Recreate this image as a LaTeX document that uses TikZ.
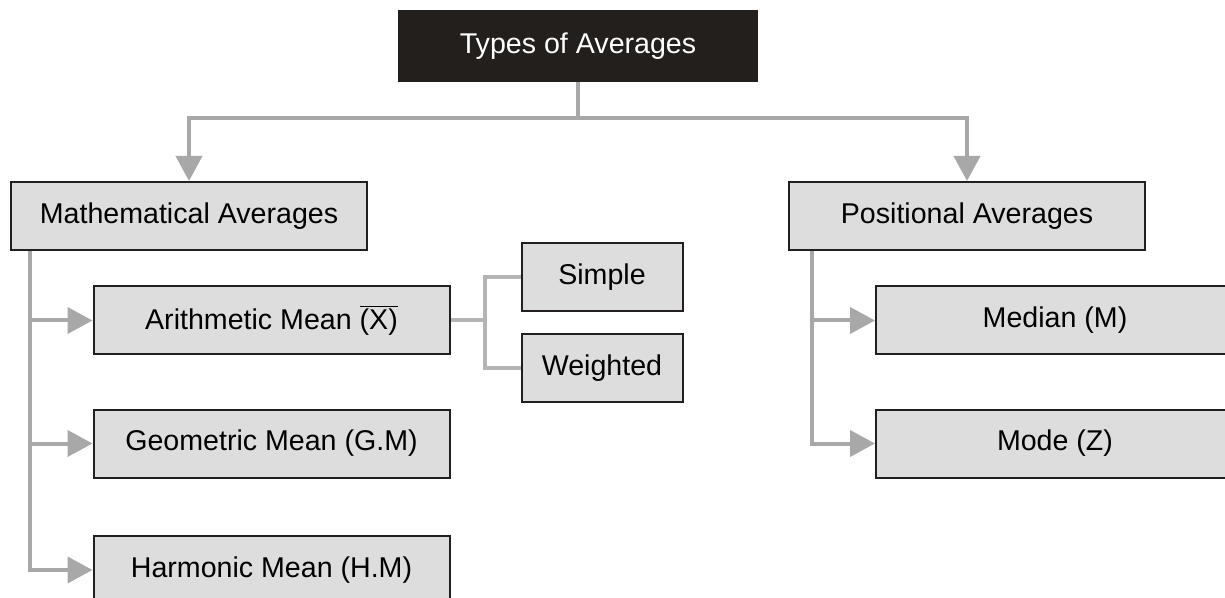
\documentclass[tikz,border=0pt]{standalone}
\usepackage{fontspec}
\setmainfont{Liberation Sans}
\usetikzlibrary{arrows.meta}
\definecolor{boxfill}{HTML}{DDDDDD}
\definecolor{boxline}{HTML}{231F20}
\definecolor{topfill}{HTML}{231F1C}
\definecolor{linkgray}{HTML}{A8A8A8}
\definecolor{forkgray}{HTML}{B4B4B4}
\tikzset{
  avgbox/.style={draw=boxline, fill=boxfill, line width=1pt, minimum width=178pt,
                 minimum height=34pt, inner sep=0pt,
                 font=\fontsize{14.3}{17}\selectfont},
  topbox/.style={avgbox, fill=topfill, draw=topfill, text=white, minimum width=179pt,
                 minimum height=35pt},
  smallbox/.style={avgbox, minimum width=80.5pt},
  link/.style={draw=linkgray, line width=2pt},
  arrowlink/.style={link, -{Triangle[length=12.5pt, width=13pt]}},
  forklink/.style={draw=forkgray, line width=2pt},
}

\begin{document}
\begin{tikzpicture}[x=0.5pt, y=-0.5pt]
    \useasboundingbox (0,0) rectangle (1225,598);
    \node[topbox] (types) at (578,46) {Types of Averages};
    \node[avgbox] (math) at (189,216) {Mathematical Averages};
    \node[avgbox] (pos) at (967,216) {Positional Averages};
    \node[avgbox] (arith) at (271.5,320.5) {Arithmetic Mean $\overline{\mbox{(X)}}$};
    \node[avgbox] (geom) at (271.5,443.5) {Geometric Mean (G.M)};
    \node[avgbox] (harm) at (271.5,570) {Harmonic Mean (H.M)};
    \node[smallbox] (simple) at (602,277) {Simple};
    \node[smallbox] (weighted) at (602,368) {Weighted};
    \node[avgbox, minimum width=179pt] (median) at (1055,320.5) {Median (M)};
    \node[avgbox, minimum width=179pt] (mode) at (1055,443.5) {Mode (Z)};
    \coordinate (split) at (578,118);
    \coordinate (fork) at (485,320.5);
    \draw[link] (types) -- (split);
    \draw[arrowlink] (split) -| (math);
    \draw[arrowlink] (split) -| (pos);
    \draw[arrowlink] ([xshift=10pt]math.south west) |- (arith);
    \draw[arrowlink] ([xshift=10pt]math.south west) |- (geom);
    \draw[arrowlink] ([xshift=10pt]math.south west) |- (harm);
    \draw[arrowlink] ([xshift=12pt]pos.south west) |- (median);
    \draw[arrowlink] ([xshift=12pt]pos.south west) |- (mode);
    \draw[forklink] (arith) -- (fork);
    \draw[forklink] (fork) |- (simple);
    \draw[forklink] (fork) |- (weighted);
  \end{tikzpicture}
\end{document}
